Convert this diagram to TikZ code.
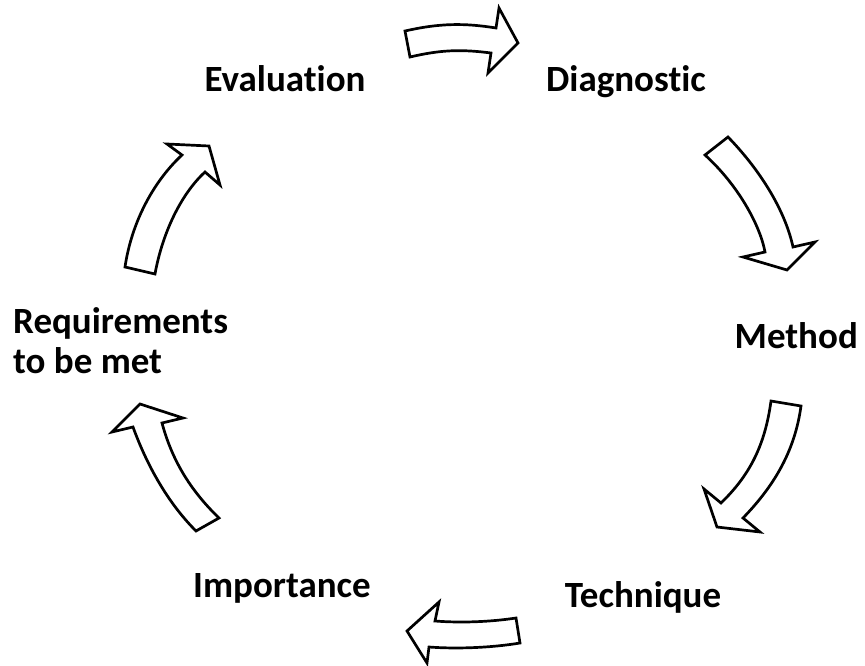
\documentclass[tikz,border=0pt]{standalone}
\usepackage{fontspec}
\setmainfont{Carlito}[Ligatures=CommonOff]
\usetikzlibrary{math}

\begin{document}
\begin{tikzpicture}[x=1pt,y=-1pt,
  blockarrow/.style={draw=black,fill=white,line width=2.7pt,line join=miter},
  label/.style={font=\fontsize{37}{40}\selectfont\bfseries,inner sep=0pt,anchor=base}]
\useasboundingbox (0,0) rectangle (865,666);

\node[label] (eval) at (285,92) {Evaluation};
\node[label] (diag) at (626,92) {Diagnostic};
\node[label,anchor=base east] (meth) at (858,348) {Method};
\node[label,anchor=base west,align=left] (req) at (13,373) {Requirements\\to be met};
\node[label] (impo) at (282,597) {Importance};
\node[label] (tech) at (643,607) {Technique};

\draw[blockarrow] (405,31) .. controls (440,23) and (465,23) .. (496,28) -- (499,8) -- (518,43)
  -- (488,73) -- (491,53) .. controls (460,49) and (440,50) .. (410,57) -- cycle;%top

\draw[blockarrow] (728,137) .. controls (760,170) and (785,210) .. (793,247) -- (815,242)
  -- (787,270) -- (743,257) -- (765,252) .. controls (760,225) and (738,185) .. (705,155) -- cycle;%upper right

\draw[blockarrow] (771,401) .. controls (765,445) and (750,475) .. (721,503) -- (704,489)
  -- (717,527) -- (760,532) -- (743,518) .. controls (775,485) and (795,450) .. (801,406) -- cycle;%lower right

\draw[blockarrow] (516,618) .. controls (490,622) and (460,623) .. (435,621) -- (439,602)
  -- (407,631) -- (427,663) -- (429,647) .. controls (455,649) and (490,648) .. (520,643) -- cycle;%bottom

\draw[blockarrow] (196,531) .. controls (165,500) and (145,460) .. (133,427) -- (112,432)
  -- (140,404) -- (183,418) -- (162,423) .. controls (172,460) and (190,490) .. (219,518) -- cycle;%lower left

\draw[blockarrow] (125,267) .. controls (132,220) and (155,180) .. (182,155) -- (167,144)
  -- (209,146) -- (220,185) -- (205,172) .. controls (180,195) and (162,235) .. (155,274) -- cycle;%upper left

\end{tikzpicture}
\end{document}
